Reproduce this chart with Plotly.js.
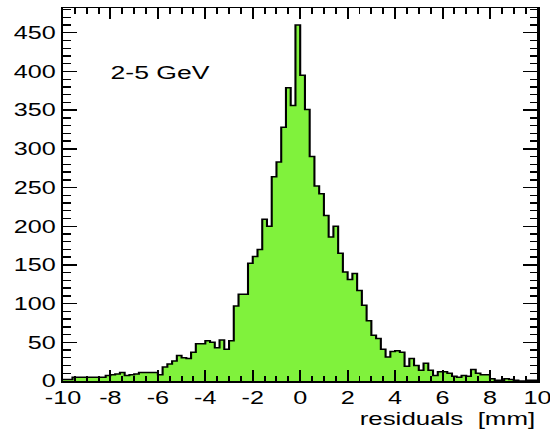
<!DOCTYPE html>
<html>
<head>
<meta charset="utf-8">
<script src="https://cdn.plot.ly/plotly-3.0.1.min.js"></script>
<style>
  html, body { margin: 0; padding: 0; overflow: hidden; background: #fff; }
  #wrap { width: 550px; height: 434px; overflow: hidden; }
  #plot { width: 393px; height: 434px; transform: scaleX(1.3995); transform-origin: 0 0; }
</style>
</head>
<body>
<div id="wrap"><div id="plot"></div></div>
<script>
// Histogram: residuals [mm], 100 bins from -10 to 10
const binLow = -10;
const binHigh = 10;
const counts = [
  2, 2, 5, 5, 5, 5, 5, 5, 5, 7,
  8, 9, 11, 7, 8, 9, 11, 11, 11, 11,
  8, 18, 22, 26, 33, 30, 29, 37, 48, 48,
  52, 50, 43, 53, 41, 52, 97, 112, 112, 152,
  161, 170, 209, 200, 264, 283, 328, 379, 356, 460,
  395, 351, 290, 252, 242, 214, 186, 200, 165, 141,
  131, 139, 117, 98, 78, 59, 55, 41, 31, 38,
  39, 37, 19, 29, 20, 14, 23, 14, 7, 12,
  12, 10, 6, 5, 7, 6, 15, 10, 8, 8,
  3, 1, 1, 3, 2, 1, 0, 0, 1, 1
];
const xTickVals = [-10, -8, -6, -4, -2, 0, 2, 4, 6, 8, 10];
const xTickText = ['-10', '-8', '-6', '-4', '-2', '0', '2', '4', '6', '8', '10'];
const yTickVals = [0, 50, 100, 150, 200, 250, 300, 350, 400, 450];
const yTickText = ['0', '50', '100', '150', '200', '250', '300', '350', '400', '450'];
const yMax = 482;
const labelText = '2-5 GeV';
const xTitle = 'residuals  [mm]';

const nBins = counts.length;
const w = (binHigh - binLow) / nBins;
const edges = [];
const vals = [];
for (let i = 0; i < nBins; i++) { edges.push(binLow + i * w); vals.push(counts[i]); }
edges.push(binHigh); vals.push(counts[nBins - 1]);

const trace = {
  type: 'scatter', mode: 'lines',
  x: edges, y: vals,
  line: { shape: 'hv', color: '#000', width: 1.5 },
  fill: 'tozeroy', fillcolor: '#80f23c',
  hoverinfo: 'skip', showlegend: false
};
// empty trace to anchor the mirrored (top / right) tick axes
const mirrorTrace = { type: 'scatter', mode: 'none', x: [], y: [], xaxis: 'x2', yaxis: 'y2', showlegend: false, hoverinfo: 'skip' };

const font = { family: '"Liberation Sans", Arial, Helvetica, sans-serif', size: 18, color: '#000' };

const xTicks = {
  range: [binLow, binHigh], autorange: false, automargin: false,
  tickmode: 'array', tickvals: xTickVals, ticktext: xTickText,
  ticks: 'inside', ticklen: 11, tickwidth: 1.4, tickcolor: '#000',
  minor: { dtick: 0.5, ticks: 'inside', ticklen: 5.5, tickwidth: 1.4, tickcolor: '#000', showgrid: false },
  showgrid: false, zeroline: false, tickfont: font
};
const yTicks = {
  range: [0, yMax], autorange: false, automargin: false,
  tickmode: 'array', tickvals: yTickVals, ticktext: yTickText,
  ticks: 'inside', ticklen: 10, tickwidth: 1.4, tickcolor: '#000',
  minor: { dtick: 10, ticks: 'inside', ticklen: 5.5, tickwidth: 1.4, tickcolor: '#000', showgrid: false },
  showgrid: false, zeroline: false, tickfont: font
};

const layout = {
  width: 393, height: 434,
  margin: { l: 45, r: 8.5, t: 8, b: 53, pad: 0 },
  paper_bgcolor: '#fff', plot_bgcolor: '#fff',
  showlegend: false,
  font: font,
  xaxis: Object.assign({}, xTicks, {
    showline: true, linecolor: '#000', linewidth: 1.5, mirror: true, ticklabeloverflow: 'allow'
  }),
  yaxis: Object.assign({}, yTicks, {
    showline: true, linecolor: '#000', linewidth: 1.5, mirror: true
  }),
  xaxis2: Object.assign({}, xTicks, { overlaying: 'x', side: 'top', anchor: 'y2', showticklabels: false, showline: false }),
  yaxis2: Object.assign({}, yTicks, { overlaying: 'y', side: 'right', anchor: 'x2', showticklabels: false, showline: false }),
  annotations: [
    { text: labelText, xref: 'x', yref: 'y', x: -8.1, y: 399, xanchor: 'left', yanchor: 'middle',
      showarrow: false, font: { family: font.family, size: 19, color: '#000' } },
    { text: xTitle, xref: 'paper', yref: 'paper', x: 1, y: 0, xanchor: 'right', yanchor: 'top',
      yshift: -25, showarrow: false, font: { family: font.family, size: 18.5, color: '#000' } }
  ]
};

Plotly.newPlot('plot', [trace, mirrorTrace], layout, { displayModeBar: false, staticPlot: true });
</script>
</body>
</html>
